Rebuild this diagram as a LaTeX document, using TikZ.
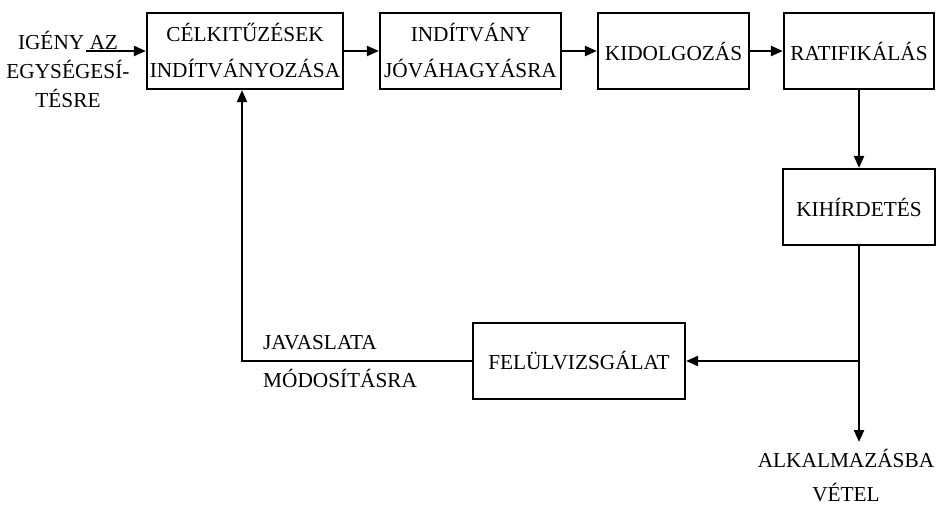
\documentclass[tikz,border=0pt]{standalone}
\usepackage{fontspec}
\setmainfont{Liberation Serif}
\usetikzlibrary{arrows.meta}
\begin{document}
\begin{tikzpicture}[x=1pt,y=-1pt,
  box/.style={draw,line width=2.2pt,minimum height=76pt,inner sep=0pt,align=center,
    font=\fontsize{21.3}{36}\selectfont},
  lbl/.style={inner sep=0pt},
  conn/.style={line width=2.2pt,-{Triangle[length=12pt,width=10pt]}}]
\useasboundingbox (0,0) rectangle (936,506);
\node[box,minimum width=196pt] (b1) at (245,51) {CÉLKITŰZÉSEK\\INDÍTVÁNYOZÁSA};
\node[box,minimum width=181pt] (b2) at (470.5,51) {INDÍTVÁNY\\JÓVÁHAGYÁSRA};
\node[box,minimum width=151pt] (b3) at (673.5,51) {KIDOLGOZÁS};
\node[box,minimum width=150pt] (b4) at (859,51) {RATIFIKÁLÁS};
\node[box,minimum width=152pt] (b5) at (859,207) {KIHÍRDETÉS};
\node[box,minimum width=212pt] (b6) at (579,361) {FELÜLVIZSGÁLAT};
\node[lbl,align=center,anchor=base,font=\fontsize{21.3}{29}\selectfont] (in) at (68,107) {IGÉNY AZ\\EGYSÉGESÍ-\\TÉSRE};
\node[lbl,align=left,anchor=base west,font=\fontsize{21.3}{38}\selectfont] (jav) at (263,387) {JAVASLATA\\MÓDOSÍTÁSRA};
\node[lbl,align=center,anchor=base,font=\fontsize{21.3}{33.5}\selectfont] (alk) at (846,501) {ALKALMAZÁSBA\\VÉTEL};
\coordinate (src) at (86,51);
\coordinate (end) at (859,442);
\coordinate (br) at (859,361);
\draw[conn] (src) -- (b1.west);
\draw[conn] (b1) -- (b2);
\draw[conn] (b2) -- (b3);
\draw[conn] (b3) -- (b4);
\draw[conn] (b4) -- (b5);
\draw[conn] (b5) -- (end);
\draw[conn] (br) -- (b6.east);
\draw[conn] (b6.west) -| ([xshift=-3pt]b1.south);
\end{tikzpicture}
\end{document}
